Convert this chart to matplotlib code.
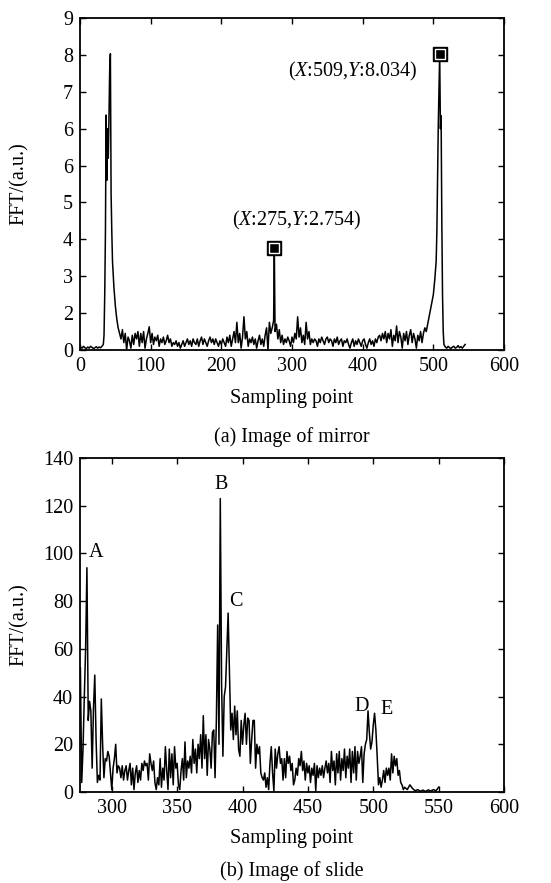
import matplotlib
matplotlib.use("Agg")
import matplotlib.pyplot as plt

plt.rcParams["font.family"] = ["Liberation Serif", "DejaVu Serif"]
plt.rcParams["mathtext.fontset"] = "custom"
plt.rcParams["mathtext.rm"] = "Liberation Serif"
plt.rcParams["mathtext.it"] = "Liberation Serif:italic"

# --- (a) mirror: FFT over sampling points ---
mirror_x = (list(range(1, 34, 2))
            + [34, 35, 36, 37, 38, 39, 40, 41, 42, 43, 44, 45, 46, 48, 50, 52, 54, 56]
            + list(range(58, 131, 2))
            + list(range(132, 211, 2))
            + list(range(212, 275, 2)) + [275]
            + list(range(276, 331, 2))
            + list(range(332, 431, 2))
            + list(range(432, 491, 2))
            + [492, 494, 496, 498, 500, 502, 504, 505, 506, 507, 508, 509, 510, 511, 512, 513, 514, 515]
            + list(range(517, 546, 2)))
mirror_y = [0.08, 0.05, 0.10, 0.06, 0.04, 0.08, 0.05, 0.10, 0.07, 0.04, 0.06, 0.09, 0.05, 0.08, 0.06, 0.10, 0.15,
            0.4, 1.5, 3.2, 6.37, 4.6, 6.0, 5.2, 6.3, 7.6, 8.03, 4.25, 3.2, 2.4, 1.7, 1.2, 0.85, 0.6, 0.45,
            0.3, 0.55, 0.2, 0.45, 0.0, 0.35, 0.25, 0.05, 0.4, 0.15,
            0.45, 0.3, 0.5, 0.1, 0.45, 0.2, 0.5, 0.05, 0.3, 0.45,
            0.63, 0.2, 0.45, 0.15, 0.35, 0.25, 0.4, 0.1, 0.3, 0.2,
            0.35, 0.15, 0.25, 0.4, 0.2, 0.3, 0.1,
            0.2, 0.15, 0.25, 0.1, 0.2, 0.05, 0.15, 0.25, 0.1, 0.2,
            0.3, 0.15, 0.25, 0.1, 0.3, 0.2, 0.15, 0.3, 0.1, 0.25,
            0.35, 0.15, 0.3, 0.2, 0.1, 0.25, 0.35, 0.2, 0.3, 0.15,
            0.3, 0.2, 0.1, 0.25, 0.15, 0.3, 0.2, 0.1, 0.35, 0.2,
            0.4, 0.1, 0.3, 0.5, 0.2, 0.75, 0.2, 0.45, 0.05, 0.35,
            0.9, 0.3, 0.5, 0.1, 0.3, 0.2, 0.35, 0.15, 0.3, 0.05,
            0.25, 0.4, 0.15, 0.3, 0.1, 0.4, 0.6, 0.0, 0.75, 0.45,
            0.6, 0.8, 2.754,
            0.5, 0.7, 0.3, 0.55, 0.2, 0.4, 0.15, 0.3, 0.2, 0.35,
            0.25, 0.1, 0.35, 0.2, 0.45, 0.3, 0.9, 0.35, 0.6, 0.2,
            0.4, 0.15, 0.75, 0.3, 0.5, 0.15, 0.3, 0.2,
            0.3, 0.25, 0.1, 0.3, 0.2, 0.35, 0.25, 0.15, 0.3, 0.35,
            0.2, 0.3, 0.25, 0.1, 0.3, 0.2, 0.35, 0.15, 0.25, 0.3,
            0.1, 0.25, 0.2, 0.3, 0.15, 0.05, 0.2, 0.3, 0.1, 0.25,
            0.15, 0.3, 0.2, 0.1, 0.25, 0.3, 0.15, 0.05, 0.2, 0.3,
            0.15, 0.25, 0.1, 0.3, 0.2, 0.35, 0.4, 0.25, 0.45, 0.3,
            0.5, 0.2, 0.45, 0.3, 0.55, 0.1, 0.4, 0.25, 0.65, 0.2,
            0.5, 0.35, 0.05, 0.45, 0.25, 0.5, 0.15, 0.4, 0.55, 0.2,
            0.45, 0.3, 0.05, 0.4, 0.25, 0.5, 0.2, 0.45, 0.6, 0.5,
            0.7, 0.9, 1.1, 1.3, 1.5, 1.9, 2.4, 3.2, 4.6, 6.1, 7.0, 8.034, 6.0, 6.35, 3.5, 1.5, 0.5, 0.15,
            0.08, 0.05, 0.1, 0.06, 0.04, 0.08, 0.1, 0.05, 0.07, 0.12, 0.06, 0.09, 0.05, 0.1, 0.15]
mirror_ticks = [0, 1, 2, 3, 4, 5, 6, 7, 8, 9]
mirror_ticklabels = ["0", "2", "3", "4", "5", "6", "6", "7", "8", "9"]  # as printed in the source
tips_x = [509, 275]
tips_y = [8.034, 2.754]
tips_text = [r"($X$:509,$Y$:8.034)", r"($X$:275,$Y$:2.754)"]

# --- (b) slide ---
slide_x = (list(range(276, 432))
           + list(range(432, 491))
           + list(range(491, 507))
           + list(range(507, 525))
           + list(range(526, 551, 2)))
slide_y = [52, 4, 18, 40, 60, 94, 30, 38, 34, 10,
           35, 49, 22, 4, 7, 5, 39, 20, 6, 14,
           13, 17, 15, 8, 1, 10, 14, 20, 8, 11,
           10, 6, 11, 5, 9, 11, 5, 9, 12, 3,
           10, 1, 8, 11, 4, 9, 5, 12, 9, 13,
           11, 12, 5, 16, 12, 9, 13, 4, 1, 6,
           3, 14, 2, 10, 5, 19, 9, 1, 18, 6,
           16, 3, 19, 10, 12, 3, 1, 9, 14, 5,
           21, 6, 13, 10, 15, 8, 22, 12, 18, 8,
           20, 14, 24, 10, 32, 14, 24, 7, 22, 18,
           10, 25, 26, 6, 30, 70, 20, 123, 45, 15,
           40, 44, 60, 75, 50, 26, 33, 22, 36, 24,
           34, 18, 15, 30, 20, 28, 33, 20, 31, 30,
           12, 22, 30, 30, 10, 20, 16, 19, 8, 6,
           5, 8, 2, 6, 1, 12, 19, 8, 0.5, 18,
           10, 16, 19, 12, 14, 5,
           14, 6, 17, 12, 15, 9, 12, 3, 5, 10,
           7, 14, 11, 17, 9, 13, 5, 12, 8, 11,
           4, 10, 7, 12, 0.5, 11, 6, 10, 7, 11,
           6, 10, 13, 8, 12, 4, 17, 9, 13, 3,
           16, 8, 17, 5, 14, 9, 18, 6, 15, 10,
           18, 4, 17, 8, 19, 5, 17, 12, 15,
           19, 4, 16, 20, 22, 34, 25, 18, 21, 28, 33, 26, 15, 3, 6, 2,
           5, 9, 4, 10, 7, 10, 5, 16, 8, 15, 11, 14, 7, 9, 4, 3, 1, 2,
           1, 3, 1.5, 0.5, 1, 0.3, 0.8, 0.2, 0.9, 0.4, 1.0, 0.5, 2]
peak_names = ["A", "B", "C", "D", "E"]
peak_label_x = [288, 383.6, 395, 491.3, 510]
peak_label_y = [100.3, 129, 80, 35.8, 34.4]

assert len(mirror_x) == len(mirror_y)
assert len(slide_x) == len(slide_y)

fs = 14.5

fig = plt.figure(figsize=(5.51, 8.83), dpi=100)
ax1 = fig.add_axes([80 / 551, 1 - 350 / 883, 424 / 551, 332 / 883])
ax2 = fig.add_axes([80 / 551, 1 - 792 / 883, 424 / 551, 334 / 883])

ax1.plot(mirror_x, mirror_y, color="black", lw=1.1)
for x, y in zip(tips_x, tips_y):
    ax1.plot([x], [y], marker="s", ms=10.5, color="black", mec="black", zorder=5)
    ax1.plot([x], [y], marker="s", ms=7.5, color="black", mec="white", mew=1.0, zorder=6)
ax1.text(386, 7.54, tips_text[0], ha="center", va="center", fontsize=fs)
ax1.text(307, 3.52, tips_text[1], ha="center", va="center", fontsize=fs)
ax1.set_xlim(0, 600)
ax1.set_ylim(0, 9)
ax1.set_xticks([0, 100, 200, 300, 400, 500, 600])
ax1.set_yticks(mirror_ticks)
ax1.set_yticklabels(mirror_ticklabels)

ax2.plot(slide_x, slide_y, color="black", lw=1.1)
for name, x, y in zip(peak_names, peak_label_x, peak_label_y):
    ax2.text(x, y, name, ha="center", va="center", fontsize=fs)
ax2.set_xlim(275.7, 600)
ax2.set_ylim(0, 140)
ax2.set_xticks([300, 350, 400, 450, 500, 550, 600])
ax2.set_yticks([0, 20, 40, 60, 80, 100, 120, 140])

for ax in (ax1, ax2):
    ax.tick_params(direction="in", top=True, right=True, length=4, width=1,
                   labelsize=fs, pad=5)
    for s in ax.spines.values():
        s.set_linewidth(1.3)
    ax.set_xlabel("Sampling point", fontsize=fs)
    ax.set_ylabel("FFT/(a.u.)", fontsize=fs)
    ax.yaxis.set_label_coords(-0.12, 0.5)

ax1.xaxis.set_label_coords(0.5, -0.118)
ax2.xaxis.set_label_coords(0.5, -0.112)

fig.text(292 / 551, 1 - 437 / 883, "(a) Image of mirror", ha="center", va="center", fontsize=fs)
fig.text(292 / 551, 1 - 871 / 883, "(b) Image of slide", ha="center", va="center", fontsize=fs)

fig.savefig("out.png", dpi=100)
